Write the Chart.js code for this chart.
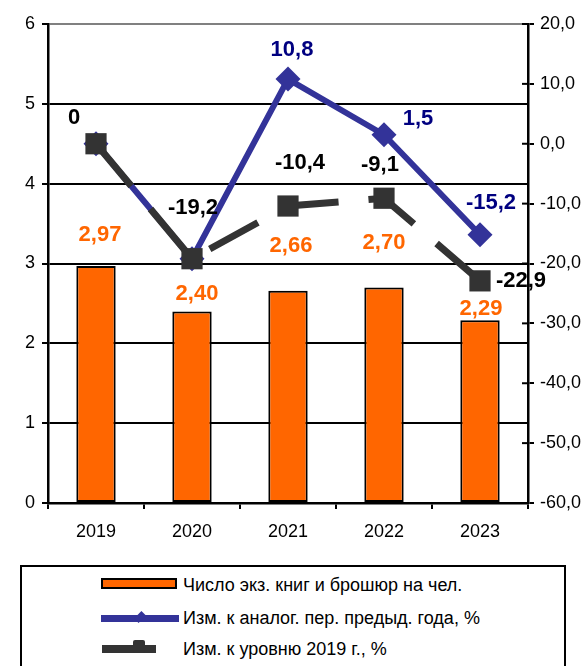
<!DOCTYPE html>
<html>
<head>
<meta charset="utf-8">
<script src="https://cdn.jsdelivr.net/npm/chart.js@4.4.1/dist/chart.umd.min.js"></script>
<style>
  body { margin: 0; background: #fff; font-family: "Liberation Sans", Arial, sans-serif; }
  #wrap { position: relative; width: 588px; height: 666px; overflow: hidden; }
  #chart { position: absolute; left: 0; top: 0; }
  .legend { position: absolute; left: 20px; top: 565px; width: 542px; height: 120px; border: 2px solid #000; }
  .item { position: absolute; left: 0; height: 20px; font-size: 18px; line-height: 20px; color: #000; white-space: nowrap; }
  .item span { position: absolute; left: 161px; top: 0; }
  .sw { position: absolute; }
</style>
</head>
<body>
<div id="wrap">
  <canvas id="chart" width="588" height="560"></canvas>
  <div class="legend">
    <div class="item" style="top:8px">
      <div class="sw" style="left:79px;top:3px;width:72px;height:7px;background:#FF6600;border:2px solid #000"></div>
      <span>Число экз. книг и брошюр на чел.</span>
    </div>
    <div class="item" style="top:41px">
      <div class="sw" style="left:79px;top:7px;width:78px;height:7px;background:#333399"></div>
      <div class="sw" style="left:114px;top:5px;width:8px;height:8px;background:#333399;transform:rotate(45deg) scale(0.8,1.3)"></div>
      <span>Изм. к аналог. пер. предыд. года, %</span>
    </div>
    <div class="item" style="top:72px">
      <div class="sw" style="left:80px;top:6px;width:54px;height:8px;background:#333333"></div>
      <div class="sw" style="left:111px;top:1px;width:12px;height:13px;background:#333333;border-radius:2px"></div>
      <span>Изм. к уровню 2019 г., %</span>
    </div>
  </div>
</div>
<script>
const years = ['2019', '2020', '2021', '2022', '2023'];
const booksPerPerson = [2.97, 2.40, 2.66, 2.70, 2.29];
const changePrevYear = [0, -19.2, 10.8, 1.5, -15.2];
const changeVs2019 = [0, -19.2, -10.4, -9.1, -22.9];
const leftTicks = [0, 1, 2, 3, 4, 5, 6];
const rightTicks = [-60, -50, -40, -30, -20, -10, 0, 10, 20];

const FONT = '"Liberation Sans", Arial, sans-serif';
const comma = (v, d) => v.toFixed(d).replace('.', ',');

// label offsets from the element (px), null = no label
const barLabelPos = [[4, -31], [5, -17], [3, -45], [0, -45], [1, -11]];
const blueLabelPos = [null, null, [4, -29], [34, -16], [11, -32]];
const darkLabelPos = [[-22, -26], [1, -51], [12, -43], [-4, -33], [41, 0]];

const valueLabels = {
  id: 'valueLabels',
  afterDatasetsDraw(chart) {
    const ctx = chart.ctx;
    ctx.save();
    ctx.font = 'bold 22px ' + FONT;
    ctx.textAlign = 'center';
    ctx.textBaseline = 'middle';
    const sets = [
      { i: 0, pos: barLabelPos, color: '#FF6600', fmt: v => comma(v, 2) },
      { i: 1, pos: blueLabelPos, color: '#000080', fmt: v => comma(v, 1) },
      { i: 2, pos: darkLabelPos, color: '#000000', fmt: v => v === 0 ? '0' : comma(v, 1) }
    ];
    sets.forEach(s => {
      const meta = chart.getDatasetMeta(s.i);
      const data = chart.data.datasets[s.i].data;
      meta.data.forEach((el, j) => {
        const p = s.pos[j];
        if (!p) return;
        ctx.fillStyle = s.color;
        ctx.fillText(s.fmt(data[j]), el.x + p[0], el.y + p[1]);
      });
    });
    ctx.restore();
  }
};

// right axis ticks cross the axis line
const crossTicks = {
  id: 'crossTicks',
  beforeDatasetsDraw(chart) {
    const sc = chart.scales.y1;
    const ctx = chart.ctx;
    ctx.save();
    ctx.strokeStyle = '#000';
    ctx.lineWidth = 2;
    sc.ticks.forEach(t => {
      const y = sc.getPixelForValue(t.value);
      ctx.beginPath();
      ctx.moveTo(sc.left - 6, y);
      ctx.lineTo(sc.left, y);
      ctx.stroke();
    });
    ctx.restore();
  }
};

new Chart(document.getElementById('chart'), {
  data: {
    labels: years,
    datasets: [
      {
        type: 'bar',
        label: 'Число экз. книг и брошюр на чел.',
        data: booksPerPerson,
        yAxisID: 'y',
        backgroundColor: '#FF6600',
        borderColor: '#000',
        borderWidth: 2,
        borderSkipped: false,
        barPercentage: 0.41,
        categoryPercentage: 1,
        order: 3
      },
      {
        type: 'line',
        label: 'Изм. к аналог. пер. предыд. года, %',
        data: changePrevYear,
        yAxisID: 'y1',
        borderColor: '#333399',
        backgroundColor: '#333399',
        borderWidth: 6,
        pointStyle: 'rectRot',
        pointRadius: 12.5,
        pointBorderWidth: 0,
        tension: 0,
        order: 2
      },
      {
        type: 'line',
        label: 'Изм. к уровню 2019 г., %',
        data: changeVs2019,
        yAxisID: 'y1',
        borderColor: '#333333',
        backgroundColor: '#333333',
        borderWidth: 7,
        borderDash: [55, 30],
        pointStyle: 'rect',
        pointRadius: 15,
        pointBorderWidth: 0,
        tension: 0,
        order: 1
      }
    ]
  },
  options: {
    responsive: false,
    animation: false,
    events: [],
    layout: { padding: { top: 24, left: 0, right: 0, bottom: 0 } },
    plugins: { legend: { display: false }, tooltip: { enabled: false } },
    scales: {
      x: {
        afterFit: s => { s.height = 57; },
        grid: { offset: true, drawOnChartArea: false, tickLength: 6, color: '#000', lineWidth: 2 },
        border: { color: '#000', width: 2.5 },
        ticks: { color: '#000', padding: 12, font: { family: FONT, size: 18 } }
      },
      y: {
        position: 'left',
        min: 0,
        max: 6,
        afterFit: s => { s.width = 48; },
        afterBuildTicks: s => { s.ticks = leftTicks.map(v => ({ value: v })); },
        grid: {
          color: c => c.tick && c.tick.value === 6 ? '#808080' : '#000',
          tickColor: '#000',
          lineWidth: 2,
          tickLength: 6
        },
        border: { color: '#000', width: 2.5 },
        ticks: { color: '#000', padding: 7, font: { family: FONT, size: 18 } }
      },
      y1: {
        position: 'right',
        min: -60,
        max: 20,
        afterFit: s => { s.width = 60; },
        afterBuildTicks: s => { s.ticks = rightTicks.map(v => ({ value: v })); },
        grid: { drawOnChartArea: false, color: '#000', lineWidth: 2, tickLength: 6 },
        border: { color: '#000', width: 2.5 },
        ticks: {
          color: '#000',
          padding: 6,
          font: { family: FONT, size: 18 },
          callback: v => comma(v, 1)
        }
      }
    }
  },
  plugins: [valueLabels, crossTicks]
});
</script>
</body>
</html>
